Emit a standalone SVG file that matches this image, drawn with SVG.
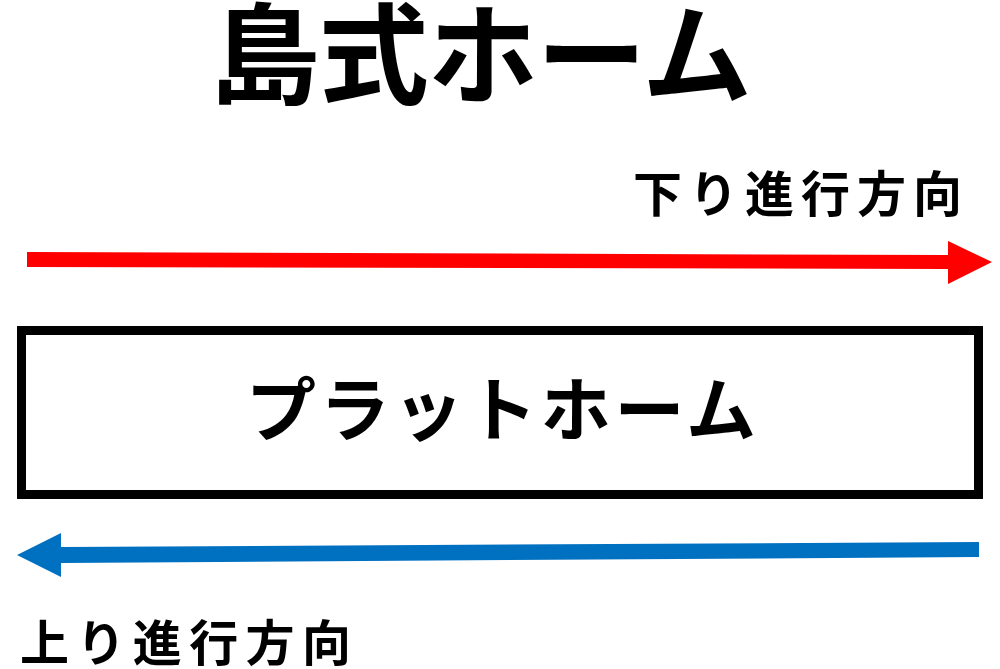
<svg xmlns="http://www.w3.org/2000/svg" width="1000" height="669" viewBox="0 0 1000 669">
<style>
text{font-family:"Noto Sans CJK JP","Noto Sans CJK SC",sans-serif;fill:#000;font-weight:bold}
.title{font-size:110px}
.plat{font-size:70px}
.lab{font-size:49px;font-weight:bold}
</style>
<rect width="1000" height="669" fill="#fff"/>
<g id="title"><text class="title" x="210" y="96" textLength="542" lengthAdjust="spacing">島式ホーム</text></g>
<g id="label-down"><text class="lab" x="633" y="212" textLength="329" lengthAdjust="spacing">下り進行方向</text></g>
<g id="platform">
<rect x="21.5" y="330.5" width="957" height="164" fill="none" stroke="#000" stroke-width="9"/>
<text class="plat" x="246" y="436" textLength="510" lengthAdjust="spacing">プラットホーム</text>
</g>
<g id="connectors">
<path id="arrow-down" d="M27,252 L948,255 L948,241 L992,262 L948,284 L948,269 L27,267 Z" fill="#FF0000"/>
<path id="arrow-up" d="M979,542 L61,547 L61,533 L17,555 L61,577 L61,563 L979,557 Z" fill="#0070C0"/>
</g>
<g id="label-up"><text class="lab" x="20" y="661" textLength="331" lengthAdjust="spacing">上り進行方向</text></g>
</svg>
